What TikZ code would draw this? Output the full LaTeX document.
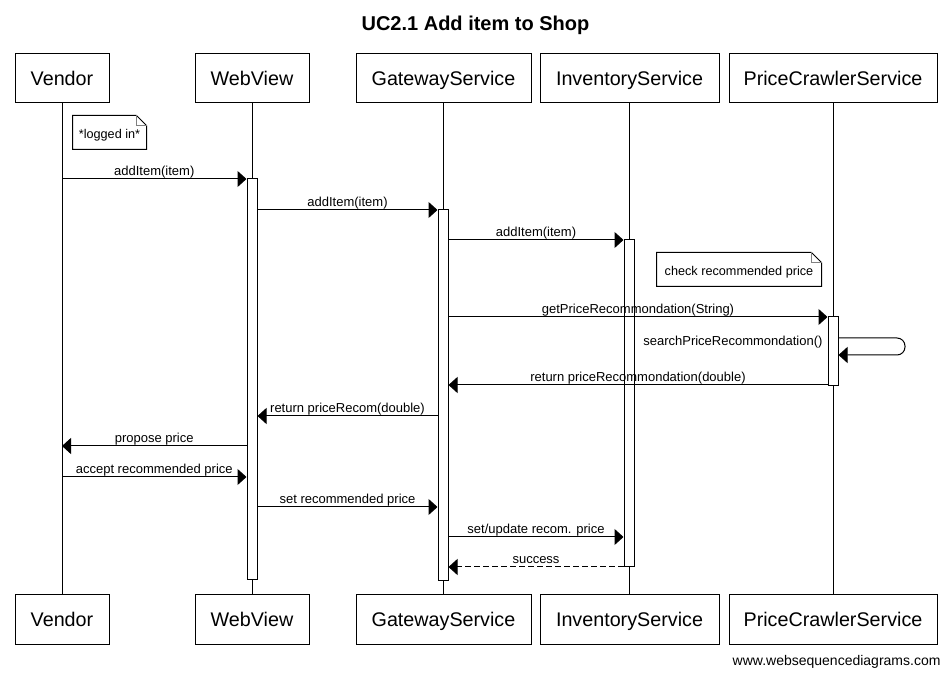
\documentclass[tikz,border=0pt]{standalone}
\usepackage{fontspec}
\setmainfont{Liberation Sans}
\usetikzlibrary{arrows.meta,positioning}

\begin{document}
\begin{tikzpicture}[x=0.75pt,y=-0.75pt,line width=0.75pt,
    >={Triangle[length=6.75pt,width=12pt]},
    node distance=368.25pt,
    actor/.style={draw,fill=white,minimum height=36.75pt,inner xsep=0pt,
      text height=10.6pt,text depth=0pt,font=\fontsize{14.8}{17}\selectfont},
    bar/.style={draw,fill=white,minimum width=7.5pt,inner sep=0pt},
    msg/.style={->},
    reply/.style={->,dash pattern=on 4.5pt off 2.25pt},
    lbl/.style={anchor=base,inner sep=0pt,yshift=2.6pt,font=\fontsize{9.75}{11}\selectfont},
    note/.style={minimum height=24.75pt,inner sep=0pt,text height=9.75pt,text depth=0pt,
      font=\fontsize{9.5}{11}\selectfont}]

    \useasboundingbox (0,0) rectangle (951,677);

    \node[font=\bfseries\fontsize{15}{18}\selectfont,anchor=base] (title) at (475.5,31) {UC2.1 Add item to Shop};

    % participants
    \node[actor,minimum width=70.5pt] (vendT) at (62,78.5) {Vendor};
    \node[actor,minimum width=85.5pt] (webT) at (252,78.5) {WebView};
    \node[actor,minimum width=131.25pt] (gateT) at (443.5,78.5) {GatewayService};
    \node[actor,minimum width=134.25pt] (invT) at (629.5,78.5) {InventoryService};
    \node[actor,minimum width=156pt] (crawlT) at (833,78.5) {PriceCrawlerService};

    \node[actor,minimum width=70.5pt,below=of vendT] (vendB) {Vendor};
    \node[actor,minimum width=85.5pt,below=of webT] (webB) {WebView};
    \node[actor,minimum width=131.25pt,below=of gateT] (gateB) {GatewayService};
    \node[actor,minimum width=134.25pt,below=of invT] (invB) {InventoryService};
    \node[actor,minimum width=156pt,below=of crawlT] (crawlB) {PriceCrawlerService};

    % lifelines
    \draw (vendT.south) -- (vendB.north);
    \draw (webT.south) -- (webB.north);
    \draw ([xshift=-0.375pt]gateT.south) -- ([xshift=-0.375pt]gateB.north);
    \draw ([xshift=-0.375pt]invT.south) -- ([xshift=-0.375pt]invB.north);
    \draw (crawlT.south) -- (crawlB.north);

    % activations
    \node[bar,minimum height=300.75pt] (webBar) at (252,379.5) {};
    \node[bar,minimum height=278.25pt] (gateBar) at (443,395.5) {};
    \node[bar,minimum height=245.25pt] (invBar) at (629,403.5) {};
    \node[bar,minimum height=51.75pt] (crawlBar) at (833,351.5) {};

    % notes
    \node[note,minimum width=54.75pt] (loggedNote) at (109.5,132.5) {*logged in*};
    \draw (loggedNote.north west) -- ([xshift=-7.5pt]loggedNote.north east)
      -- ([yshift=-7.5pt]loggedNote.north east) -- (loggedNote.south east)
      -- (loggedNote.south west) -- cycle;
    \draw[gray] ([xshift=-7.5pt]loggedNote.north east) |- ([yshift=-7.5pt]loggedNote.north east);

    \node[note,minimum width=123pt] (checkNote) at (739,269.5) {check recommended price};
    \draw (checkNote.north west) -- ([xshift=-7.5pt]checkNote.north east)
      -- ([yshift=-7.5pt]checkNote.north east) -- (checkNote.south east)
      -- (checkNote.south west) -- cycle;
    \draw[gray] ([xshift=-7.5pt]checkNote.north east) |- ([yshift=-7.5pt]checkNote.north east);

    % messages
    \draw[msg] (vendT |- 0,179) -- node[lbl] {addItem(item)} (webBar.west |- 0,179);
    \draw[msg] (webBar.east |- 0,210) -- node[lbl] {addItem(item)} (gateBar.west |- 0,210);
    \draw[msg] (gateBar.east |- 0,240) -- node[lbl] {addItem(item)} (invBar.west |- 0,240);
    \draw[msg] (gateBar.east |- 0,317) -- node[lbl] {getPriceRecommondation(String)} (crawlBar.west |- 0,317);

    \coordinate (loop) at (905,338);
    \draw[msg,rounded corners=6pt] (crawlBar.east |- loop) -- (loop) -- (loop |- 0,355) -- (crawlBar.east |- 0,355);
    \node[lbl,anchor=base east] (searchLbl) at (823,348.5) {searchPriceRecommondation()};

    \draw[msg] (crawlBar.west |- 0,385) -- node[lbl] {return priceRecommondation(double)} (gateBar.east |- 0,385);
    \draw[msg] (gateBar.west |- 0,416) -- node[lbl] {return priceRecom(double)} (webBar.east |- 0,416);
    \draw[msg] (webBar.west |- 0,446) -- node[lbl] {propose price} (vendT |- 0,446);
    \draw[msg] (vendT |- 0,477) -- node[lbl] {accept recommended price} (webBar.west |- 0,477);
    \draw[msg] (webBar.east |- 0,507) -- node[lbl] {set recommended price} (gateBar.west |- 0,507);
    \draw[msg] (gateBar.east |- 0,537) -- node[lbl] {set/update recom. price} (invBar.west |- 0,537);
    \draw[reply] (invBar.west |- 0,567) -- node[lbl] {success} (gateBar.east |- 0,567);

    \node[font=\fontsize{10.5}{12}\selectfont,anchor=base east,inner sep=0pt] (footer) at (941,666) {www.websequencediagrams.com};

\end{tikzpicture}
\end{document}
